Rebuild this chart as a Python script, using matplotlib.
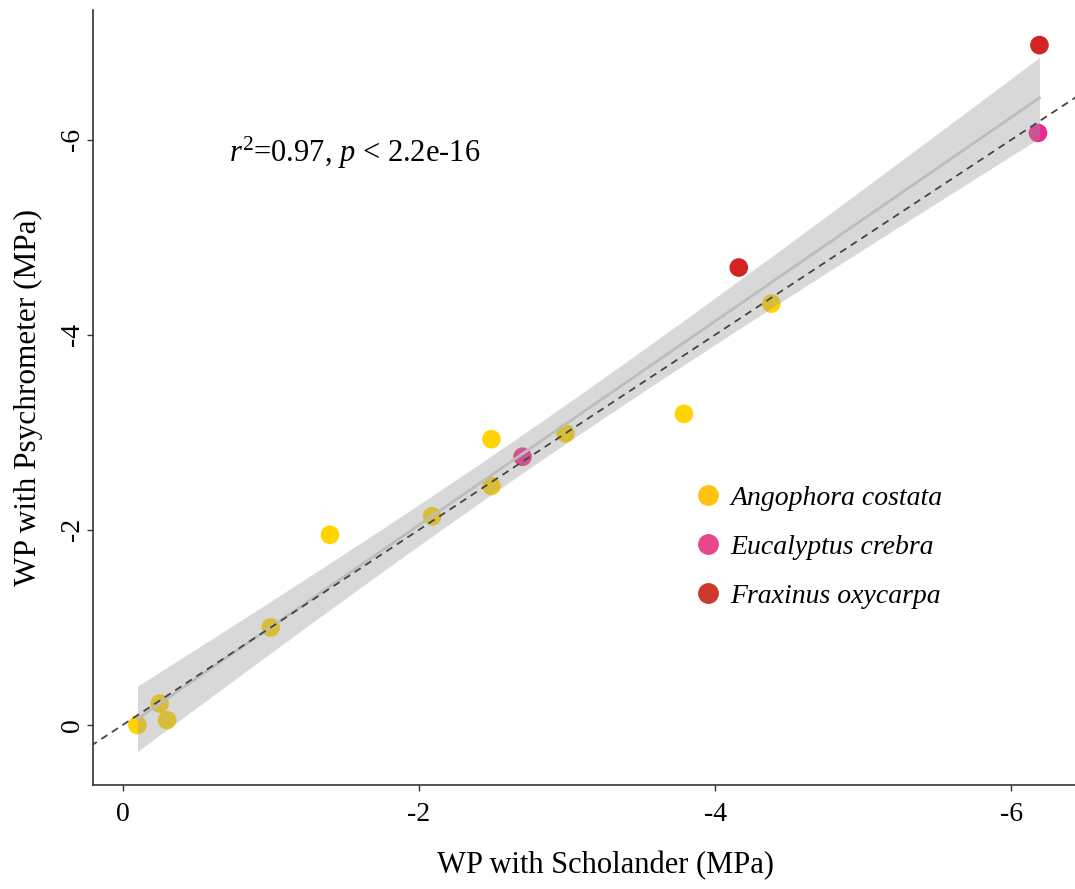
import numpy as np
import matplotlib
matplotlib.use("Agg")
import matplotlib.pyplot as plt
from matplotlib.lines import Line2D

plt.rcParams['font.family'] = ['Liberation Serif', 'DejaVu Serif']
plt.rcParams['mathtext.fontset'] = 'custom'
plt.rcParams['mathtext.rm'] = 'Liberation Serif'
plt.rcParams['mathtext.it'] = 'Liberation Serif:italic'

# Data (MPa)
species = ["Angophora costata", "Eucalyptus crebra", "Fraxinus oxycarpa"]
ang_x = [-0.10, -0.25, -0.30, -1.00, -1.40, -2.09, -2.49, -2.49, -2.99, -3.79, -4.38]
ang_y = [0.00, -0.22, -0.05, -1.00, -1.95, -2.14, -2.45, -2.93, -2.99, -3.19, -4.32]
euc_x = [-2.70, -6.18]
euc_y = [-2.75, -6.07]
fra_x = [-4.16, -6.19]
fra_y = [-4.69, -6.97]
point_colors = ["#FFD400", "#EC2B8C", "#D32424"]
legend_colors = ["#FFC20E", "#E8488B", "#CC3A2E"]
xticks = [0, -2, -4, -6]
yticks = [0, -2, -4, -6]

fig = plt.figure(figsize=(10.75, 8.89), dpi=100)
ax = fig.add_axes([93/1075, 104/889, 1 - 93/1075, (785-10)/889])

ax.scatter(ang_x, ang_y, s=180, color=point_colors[0], edgecolors='none', zorder=2)
ax.scatter(euc_x, euc_y, s=180, color=point_colors[1], edgecolors='none', zorder=2)
ax.scatter(fra_x, fra_y, s=180, color=point_colors[2], edgecolors='none', zorder=2)

# linear regression with 95% CI
X = np.array(ang_x + euc_x + fra_x)
Y = np.array(ang_y + euc_y + fra_y)
n = len(X)
b, a = np.polyfit(X, Y, 1)
xs = np.linspace(X.min(), X.max(), 200)
yhat = a + b * xs
resid = Y - (a + b * X)
s = np.sqrt(np.sum(resid**2) / (n - 2))
t = 2.160  # t(0.975, df=13)
se = s * np.sqrt(1/n + (xs - X.mean())**2 / np.sum((X - X.mean())**2))
ax.fill_between(xs, yhat - t*se, yhat + t*se, color='#999999', alpha=0.38,
                linewidth=0, zorder=3)
ax.plot(xs, yhat, color='#BDBDBD', lw=2, zorder=4)

ax.set_xlim(0.2, -6.43)
ax.set_ylim(0.615, -7.33)
ax.plot([0.5, -7], [0.5, -7], ls=(0, (4, 3)), color='#444444', lw=1.3, zorder=5)

ax.set_xticks(xticks)
ax.set_yticks(yticks)
ax.set_xticklabels([str(v) for v in xticks], fontsize=20)
ax.set_yticklabels([str(v) for v in yticks], fontsize=20, rotation=90, va='center')
for sp in ['top', 'right']:
    ax.spines[sp].set_visible(False)
for sp in ['left', 'bottom']:
    ax.spines[sp].set_color('#333333')
    ax.spines[sp].set_linewidth(1.2)
ax.tick_params(direction='out', length=4, width=1, color='#333333')
ax.tick_params(axis='x', pad=8)
ax.tick_params(axis='y', pad=2)

ax.set_xlabel("WP with Scholander (MPa)", fontsize=22, labelpad=20)
ax.xaxis.set_label_coords(0.522, -0.085)
ax.set_ylabel("WP with Psychrometer (MPa)", fontsize=22.5, labelpad=12)

ax.text(-0.72, -5.87, r"$r^{2}$=0.97, $p$ < 2.2e-16", fontsize=22, va='center', ha='left')

handles = [Line2D([], [], marker='o', ls='none', color=c, markersize=14) for c in legend_colors]
leg = ax.legend(handles, species, loc='center left', bbox_to_anchor=(0.612, 0.307),
                frameon=False, prop={'style': 'italic', 'size': 20},
                handlelength=1.0, handletextpad=0.3, labelspacing=0.85,
                borderaxespad=0, borderpad=0)

fig.savefig("out.png", dpi=100)
